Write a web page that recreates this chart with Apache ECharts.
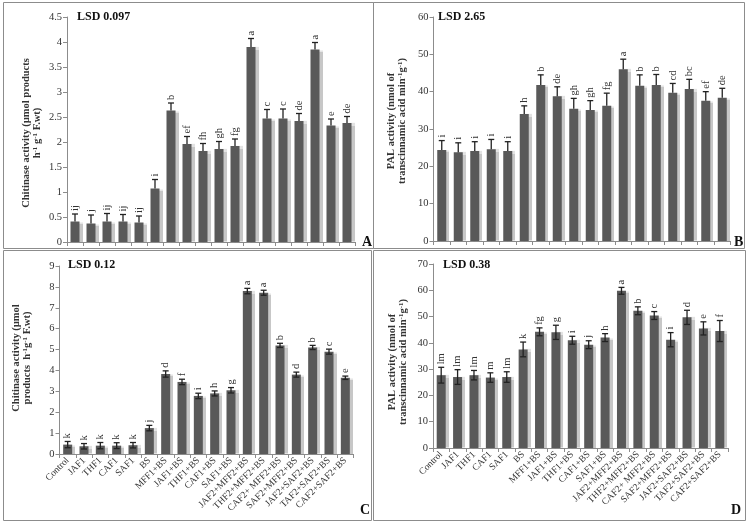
<!DOCTYPE html>
<html>
<head>
<meta charset="utf-8">
<script src="https://cdn.jsdelivr.net/npm/echarts@6/dist/echarts.min.js"></script>
<style>html,body{margin:0;padding:0;background:#fff;}#c{width:750px;height:526px;}</style>
</head>
<body>
<div id="c"></div>
<script>
const categories = ['Control','JAF1','THF1','CAF1','SAF1','BS','MFF1+BS','JAF1+BS','THF1+BS','CAF1+BS','SAF1+BS','JAF2+MFF2+BS','THF2+MFF2+BS','CAF2+ MFF2+BS','SAF2+MFF2+BS','JAF2+SAF2+BS','TAF2+SAF2+BS','CAF2+SAF2+BS'];

// Panel A: chitinase (upper)
const chitA = [0.41,0.37,0.41,0.41,0.39,1.07,2.63,1.96,1.82,1.86,1.92,3.90,2.47,2.47,2.42,3.85,2.33,2.38];
const chitAErr = [0.15,0.17,0.16,0.14,0.13,0.18,0.15,0.15,0.15,0.15,0.14,0.17,0.18,0.19,0.15,0.14,0.13,0.13];
const lettersA = ['ij','j','ij','ij','ij','i','b','ef','fh','gh','fg','a','c','c','de','a','e','de'];

// Panel B: PAL (upper)
const palB = [24.4,23.8,24.1,24.6,24.1,34.0,41.8,38.8,35.4,35.1,36.2,46.0,41.6,41.8,39.7,40.7,37.6,38.4];
const palBErr = [2.5,2.5,2.5,2.6,2.5,2.2,2.7,2.5,2.8,2.5,3.4,2.7,2.9,2.8,2.5,2.6,2.4,2.5];
const lettersB = ['i','i','i','i','i','h','b','de','gh','gh','fg','a','b','b','cd','bc','ef','de'];

// Panel C: chitinase (lower)
const chitC = [0.45,0.37,0.40,0.40,0.42,1.24,3.83,3.45,2.78,2.90,3.05,7.80,7.72,5.20,3.80,5.10,4.90,3.65];
const chitCErr = [0.15,0.13,0.15,0.14,0.13,0.13,0.15,0.13,0.13,0.12,0.13,0.13,0.12,0.10,0.12,0.10,0.12,0.08];
const lettersC = ['k','k','k','k','k','j','d','f','i','h','g','a','a','b','d','b','c','e'];

// Panel D: PAL (lower)
const palD = [27.7,27.0,27.7,26.8,27.0,37.5,44.2,44.0,41.0,39.3,42.0,59.8,52.2,50.4,41.2,49.7,45.5,44.5];
const palDErr = [3.0,2.8,1.8,1.8,2.0,2.8,1.5,2.7,1.5,1.5,1.5,1.3,1.5,1.5,2.7,2.7,2.5,4.0];
const lettersD = ['lm','lm','lm','m','lm','k','fg','g','i','j','h','a','b','c','i','d','e','f'];

const yTicksA = {min:0, max:4.5, interval:0.5};
const yTicksB = {min:0, max:60, interval:10};
const yTicksC = {min:0, max:9, interval:1};
const yTicksD = {min:0, max:70, interval:10};

const SERIF = '"Liberation Serif","DejaVu Serif",serif';
const BAR = '#595959';
const AXIS = '#8c8c8c';

const grids = [
  {left:67, top:17, width:288, height:225},
  {left:433.5, top:17, width:297, height:224},
  {left:59.5, top:266, width:294, height:188},
  {left:433, top:264, width:295, height:184}
];

function xAx(i, showLabels){
  return {
    type:'category', gridIndex:i, data:categories,
    axisLine:{lineStyle:{color:AXIS}},
    axisTick:{show:true, length:4, lineStyle:{color:AXIS}},
    axisLabel:{show:showLabels, rotate:45, fontFamily:SERIF, fontSize:9.5, color:'#333', margin:5, interval:0}
  };
}
function yAx(i, t){
  return {
    type:'value', gridIndex:i, min:t.min, max:t.max, interval:t.interval,
    splitLine:{show:false},
    axisLine:{show:true, lineStyle:{color:AXIS}},
    axisTick:{show:true, length:4, lineStyle:{color:AXIS}},
    axisLabel:{fontFamily:SERIF, fontSize:10.5, color:'#333', margin:5}
  };
}
function barSeries(i, vals){
  return {
    type:'bar', xAxisIndex:i, yAxisIndex:i, data:vals, barWidth:9,
    itemStyle:{color:BAR, shadowColor:'rgba(0,0,0,0.22)', shadowOffsetX:3, shadowOffsetY:0, shadowBlur:1},
    silent:true
  };
}
function errSeries(i, vals, errs, letters, both){
  return {
    type:'custom', xAxisIndex:i, yAxisIndex:i, z:5,
    data: vals.map((v,k)=>[k, v, errs[k], letters[k]]),
    renderItem: function(params, api){
      const k = api.value(0), v = api.value(1), e = api.value(2);
      const letter = letters[k];
      const top = api.coord([k, v+e]);
      const mid = api.coord([k, v]);
      const bot = api.coord([k, both ? v-e : v]);
      const x = top[0], hw = 3;
      const children = [
        {type:'line', shape:{x1:x, y1:top[1], x2:x, y2:bot[1]}, style:{stroke:'#222', lineWidth:1.3}},
        {type:'line', shape:{x1:x-hw, y1:top[1], x2:x+hw, y2:top[1]}, style:{stroke:'#222', lineWidth:1.3}}
      ];
      if (both) children.push({type:'line', shape:{x1:x-hw, y1:bot[1], x2:x+hw, y2:bot[1]}, style:{stroke:'#222', lineWidth:1.3}});
      children.push({type:'text', x:x, y:top[1]-3, rotation:Math.PI/2,
        style:{text:letter, align:'left', verticalAlign:'middle', fontFamily:SERIF, fontSize:10.5, fill:'#333'}});
      return {type:'group', children:children};
    }
  };
}

const supRich = {
  b:{fontFamily:SERIF, fontWeight:'bold', fontSize:10.5, fill:'#333', lineHeight:11},
  s:{fontFamily:SERIF, fontWeight:'bold', fontSize:7, fill:'#333', verticalAlign:'top', lineHeight:11}
};
function yTitle(cx, cy, text){
  return {type:'text', x:cx, y:cy, rotation:Math.PI/2, z:10,
    style:{text:text, rich:supRich, align:'center', verticalAlign:'middle', fontFamily:SERIF, fontWeight:'bold', fontSize:10.5, fill:'#333'}};
}
function plain(x, y, text, size, align){
  return {type:'text', x:x, y:y, z:10,
    style:{text:text, align:align||'left', verticalAlign:'middle', fontFamily:SERIF, fontWeight:'bold', fontSize:size, fill:'#111'}};
}
function box(x, y, w, h){
  return {type:'rect', shape:{x:x, y:y, width:w, height:h}, style:{fill:'none', stroke:'#8c8c8c', lineWidth:1}, z:0};
}

const chart = echarts.init(document.getElementById('c'), null, {renderer:'canvas'});
chart.setOption({
  animation:false,
  backgroundColor:'#fff',
  grid: grids,
  xAxis:[xAx(0,false), xAx(1,false), xAx(2,true), xAx(3,true)],
  yAxis:[yAx(0,yTicksA), yAx(1,yTicksB), yAx(2,yTicksC), yAx(3,yTicksD)],
  series:[
    barSeries(0, chitA), errSeries(0, chitA, chitAErr, lettersA, false),
    barSeries(1, palB), errSeries(1, palB, palBErr, lettersB, false),
    barSeries(2, chitC), errSeries(2, chitC, chitCErr, lettersC, true),
    barSeries(3, palD), errSeries(3, palD, palDErr, lettersD, true)
  ],
  graphic:[
    box(3.5, 2.5, 370, 246),
    box(373.5, 2.5, 371, 246),
    box(3.5, 250.5, 368, 270),
    box(373.5, 250.5, 372, 270),
    yTitle(32, 133, '{b|Chitinase activity (µmol products}\n{b|h}{s|-1}{b| g}{s|-1}{b| F.wt)}'),
    yTitle(397, 121, '{b|PAL activity (nmol of}\n{b|transcinnamic acid min}{s|-1}{b|g}{s|-1}{b|)}'),
    yTitle(22, 358, '{b|Chitinase activity (µmol}\n{b|products  h}{s|-1}{b|g}{s|-1}{b| F.wt)}'),
    yTitle(398, 362, '{b|PAL activity (nmol of}\n{b|transcinnamic acid min}{s|-1}{b|g}{s|-1}{b|)}'),
    plain(77, 17, 'LSD 0.097', 12),
    plain(438, 17, 'LSD 2.65', 12),
    plain(68, 265, 'LSD 0.12', 12),
    plain(443, 265, 'LSD 0.38', 12),
    plain(362, 242, 'A', 14),
    plain(734, 242, 'B', 14),
    plain(360, 510, 'C', 14),
    plain(731, 510, 'D', 14)
  ]
});
</script>
</body>
</html>
